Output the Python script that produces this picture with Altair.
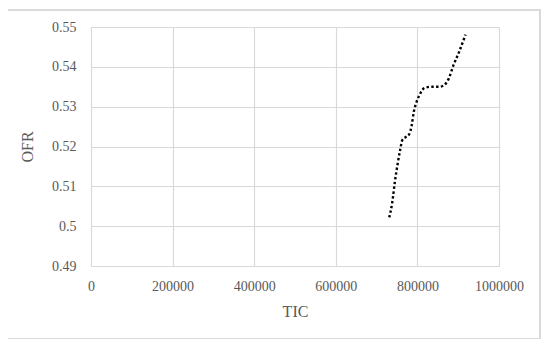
import altair as alt
import pandas as pd

tic = [731000, 738000, 745000, 752000, 758000, 763000, 772000, 780000, 786000,
       791000, 798000, 806000, 812000, 820000, 835000, 853000, 864000, 877000,
       888000, 902000, 918000]
ofr = [0.5022, 0.5057, 0.5113, 0.5159, 0.5193, 0.5216, 0.5224, 0.5231, 0.5253,
       0.5286, 0.5312, 0.5331, 0.5342, 0.5348, 0.5350, 0.5350, 0.5353, 0.5371,
       0.5403, 0.5437, 0.5481]
x_ticks = [0, 200000, 400000, 600000, 800000, 1000000]
y_ticks = [0.49, 0.50, 0.51, 0.52, 0.53, 0.54, 0.55]

df = pd.DataFrame({"TIC": tic, "OFR": ofr})

FONT = "Liberation Serif"
GRAY = "#595959"

line = alt.Chart(df).mark_line(
    color="black", strokeWidth=2.4, strokeDash=[2.4, 2.4], interpolate="monotone"
).encode(
    x=alt.X("TIC:Q", scale=alt.Scale(domain=[0, 1000000], nice=False),
            axis=alt.Axis(values=x_ticks, format="d", title="TIC")),
    y=alt.Y("OFR:Q", scale=alt.Scale(domain=[0.49, 0.55], nice=False, zero=False),
            axis=alt.Axis(values=y_ticks, format=".2~f", title="OFR")),
)

frame = alt.Chart(df).mark_rect(
    fill=None, stroke="#d9d9d9", strokeWidth=1.2, clip=False
).encode(
    x=alt.value(-84), x2=alt.value(449), y=alt.value(-17), y2=alt.value(312)
)

chart = alt.layer(frame, line).properties(
    width=408, height=239,
    autosize=alt.AutoSizeParams(type="none"),
    padding={"left": 83, "top": 19, "right": 43, "bottom": 73},
    background="white",
).configure_view(
    stroke=None
).configure_axis(
    labelFont=FONT, titleFont=FONT, labelColor=GRAY, titleColor=GRAY,
    labelFontSize=14, titleFontSize=16, titleFontWeight="normal",
    gridColor="#d9d9d9", gridWidth=1.2, ticks=False, domain=False,
    labelFlush=False, labelOverlap=False, labelBound=False,
).configure_axisX(
    labelPadding=13, titlePadding=10,
).configure_axisY(
    labelPadding=15, titlePadding=16, domain=True, domainColor="#d9d9d9",
)

chart.save("out.html", embed_options={"renderer": "svg", "actions": False})
